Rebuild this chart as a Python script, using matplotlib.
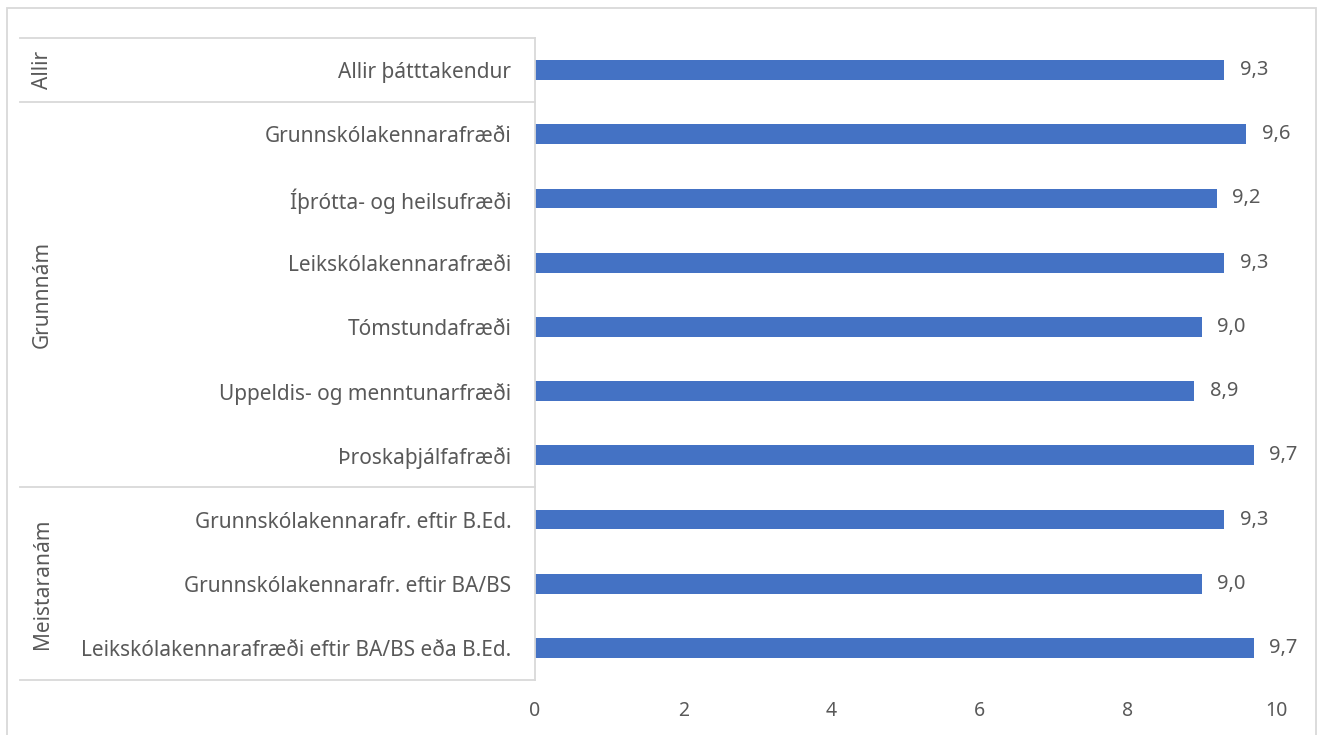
import matplotlib.pyplot as plt
from matplotlib.patches import Rectangle
from matplotlib.lines import Line2D

plt.rcParams['font.family'] = ['Noto Sans', 'DejaVu Sans']

# Data
categories = ['Allir þátttakendur',
              'Grunnskólakennarafræði',
              'Íþrótta- og heilsufræði',
              'Leikskólakennarafræði',
              'Tómstundafræði',
              'Uppeldis- og menntunarfræði',
              'Þroskaþjálfafræði',
              'Grunnskólakennarafr. eftir B.Ed.',
              'Grunnskólakennarafr. eftir BA/BS',
              'Leikskólakennarafræði eftir BA/BS eða B.Ed.']
values = [9.3, 9.6, 9.2, 9.3, 9.0, 8.9, 9.7, 9.3, 9.0, 9.7]
groups = ['Allir', 'Grunnnám', 'Meistaranám']
group_sizes = [1, 6, 3]

bar_color = '#4472C4'
text_color = '#595959'
line_color = '#D9D9D9'

W, H = 1324, 735
fig = plt.figure(figsize=(W / 100, H / 100), dpi=100)

# axes placed in pixel terms
left_px, right_px, top_px, bottom_px = 535, 1276, 38, 680
ax = fig.add_axes([left_px / W, 1 - bottom_px / H,
                   (right_px - left_px) / W, (bottom_px - top_px) / H])

n = len(categories)
ypos = list(range(n))
ax.barh(ypos, values, height=0.31, color=bar_color)
for y, v in zip(ypos, values):
    ax.text(v + 0.21, y, f'{v:.1f}'.replace('.', ','), va='center', ha='left',
            fontsize=14.5, color=text_color)

ax.set_xlim(0, 10)
ax.set_ylim(n - 0.5, -0.5)
ax.set_xticks([0, 2, 4, 6, 8, 10])
ax.tick_params(axis='x', length=0, labelsize=14, labelcolor=text_color, pad=15)
ax.set_yticks(ypos)
ax.set_yticklabels(categories)
ax.tick_params(axis='y', length=0, labelsize=15, labelcolor=text_color, pad=17)
for s in ['top', 'right', 'bottom']:
    ax.spines[s].set_visible(False)
ax.spines['left'].set_color(line_color)
ax.spines['left'].set_linewidth(1.3)

# group separators and group labels in the label area
sep_x0 = 20 / W
sep_x1 = left_px / W
band = (bottom_px - top_px) / n
edge = top_px
fig.add_artist(Line2D([sep_x0, sep_x1], [1 - edge / H] * 2, color=line_color, lw=1.3))
for g, size in zip(groups, group_sizes):
    nxt = edge + size * band
    fig.add_artist(Line2D([sep_x0, sep_x1], [1 - nxt / H] * 2, color=line_color, lw=1.3))
    fig.text(42 / W, 1 - (edge + nxt) / 2 / H, g, rotation=90, ha='center', va='center',
             fontsize=15, color=text_color)
    edge = nxt

# outer chart border
fig.add_artist(Rectangle((7 / W, -0.05), (1316 - 7) / W, 1.05 - 8 / H,
                         fill=False, edgecolor=line_color, lw=1.3,
                         transform=fig.transFigure))

plt.savefig('out.png', dpi=100)
